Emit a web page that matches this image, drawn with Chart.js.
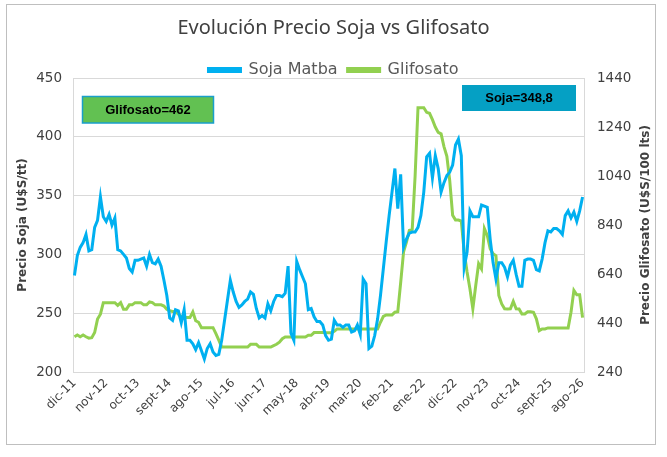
<!DOCTYPE html>
<html>
<head>
<meta charset="utf-8">
<script src="https://cdn.jsdelivr.net/npm/chart.js@4.4.1/dist/chart.umd.min.js"></script>
<style>
  body { margin: 0; background: #fff; }
  #wrap { width: 667px; height: 457px; position: relative; }
</style>
</head>
<body>
<div id="wrap"><canvas id="grafico" width="667" height="457"></canvas></div>
<script>
// Meses (dic-11 a ago-26), un dato por mes
const meses = ['ene', 'feb', 'mar', 'abr', 'may', 'jun', 'jul', 'ago', 'sept', 'oct', 'nov', 'dic'];
const mesInicio = 11;   // índice de 'dic'
const anioInicio = 11;
const totalMeses = 177;

// Soja Matba (U$S/tt) - eje izquierdo
const soja = [
  282, 299, 306, 310, 317, 303, 304, 323, 329, 349, 332, 328, 334, 325, 331, 304, 303, 300, 297, 288,
  285, 295, 295, 296, 297, 290, 300, 293, 292, 296, 290, 278, 265, 246, 244, 253, 252, 242, 253, 227,
  227, 224, 219, 225, 218, 211, 220, 224, 217, 214, 215, 227, 244, 261, 278, 268, 260, 255, 257, 260,
  262, 268, 266, 254, 246, 248, 246, 258, 252, 260, 265, 265, 264, 267, 290, 233, 227, 294, 287, 281,
  275, 253, 254, 247, 243, 243, 240, 231, 227, 228, 244, 240, 240, 238, 240, 240, 234, 235, 240, 232,
  279, 275, 220, 222, 231, 245, 265, 288, 311, 333, 353, 373, 339, 368, 306, 313, 318, 319, 319, 323,
  333, 353, 383, 386, 365, 384, 373, 353, 361, 367, 370, 376, 393, 398, 384, 289, 302, 337, 332, 332,
  332, 342, 341, 340, 313, 293, 279, 293, 293, 289, 281, 291, 295, 283, 273, 273, 295, 296, 296, 295,
  287, 286, 296, 310, 320, 319, 322, 322, 320, 317, 333, 337, 331, 336, 328, 337, 348.8
];

// Glifosato (U$S/100 lts) - eje derecho
const glifosato = [
  384, 391, 384, 391, 384, 378, 380, 401, 456, 476, 523, 523, 523, 523, 523, 512, 523, 496, 496, 514,
  514, 523, 523, 523, 514, 514, 526, 523, 514, 514, 514, 509, 496, 490, 487, 487, 476, 465, 462, 462,
  462, 485, 449, 443, 421, 421, 421, 421, 421, 397, 370, 342, 342, 342, 342, 342, 342, 342, 342, 342,
  342, 353, 353, 353, 342, 342, 342, 342, 342, 348, 353, 362, 376, 383, 383, 383, 383, 383, 383, 383,
  383, 390, 390, 401, 401, 401, 401, 400, 400, 400, 406, 416, 416, 416, 416, 416, 416, 416, 416, 416,
  416, 416, 416, 416, 416, 416, 443, 467, 473, 473, 473, 484, 486, 605, 730, 770, 818, 822, 1040, 1319,
  1319, 1319, 1300, 1296, 1270, 1240, 1218, 1212, 1160, 1120, 1020, 880, 860, 860, 856, 730, 648, 579, 498, 593,
  682, 661, 825, 797, 743, 723, 714, 552, 518, 498, 497, 498, 528, 498, 497, 477, 477, 486, 486, 484,
  457, 409, 416, 416, 420, 420, 420, 420, 420, 420, 420, 420, 484, 573, 555, 555, 462
];

// Ticks de los ejes
const ticksSoja = [200, 250, 300, 350, 400, 450];
const ticksGlifo = [240, 440, 640, 840, 1040, 1240, 1440];
const saltoEtiquetas = 11;

const etiquetas = [];
for (let i = 0; i < totalMeses; i++) {
  const m = (mesInicio + i) % 12;
  const a = anioInicio + Math.floor((mesInicio + i) / 12);
  etiquetas.push(meses[m] + '-' + a);
}

const colores = {
  soja: '#00B0F0',
  glifo: '#92D050',
  texto: '#404040',
  grilla: '#D9D9D9'
};

const fuente = 'DejaVu Sans';

// Achica el alto de la leyenda para acercar el área del gráfico
const leyendaCompacta = {
  id: 'leyendaCompacta',
  beforeInit(chart) {
    const fitOriginal = chart.legend.fit;
    chart.legend.fit = function () {
      fitOriginal.call(this);
      this.height -= 10;
    };
  }
};

// Cuadros de texto, ejes titulados y borde exterior
const decoracion = {
  id: 'decoracion',
  beforeDraw(chart) {
    const ctx = chart.ctx;
    ctx.save();
    ctx.fillStyle = '#fff';
    ctx.fillRect(0, 0, chart.width, chart.height);
    ctx.restore();
  },
  afterDraw(chart) {
    const ctx = chart.ctx;
    const area = chart.chartArea;
    ctx.save();

    // borde del gráfico
    ctx.strokeStyle = '#BFBFBF';
    ctx.lineWidth = 1;
    ctx.strokeRect(6.5, 4.5, 649, 440);

    // títulos de los ejes
    ctx.fillStyle = colores.texto;
    ctx.font = 'bold 12px ' + fuente;
    ctx.textAlign = 'center';
    ctx.textBaseline = 'middle';
    const yMedio = (area.top + area.bottom) / 2;
    ctx.save();
    ctx.translate(23, yMedio);
    ctx.rotate(-Math.PI / 2);
    ctx.fillText('Precio Soja (U$S/tt)', 0, 0);
    ctx.restore();
    ctx.save();
    ctx.translate(646, yMedio);
    ctx.rotate(-Math.PI / 2);
    ctx.fillText('Precio Glifosato (U$S/100 lts)', 0, 0);
    ctx.restore();

    // cuadros con el último valor
    const ultGlifo = glifosato[glifosato.length - 1];
    const ultSoja = soja[soja.length - 1];
    ctx.font = 'bold 13px "Liberation Sans"';

    ctx.fillStyle = '#62C152';
    ctx.fillRect(82.5, 96.5, 131, 26.5);
    ctx.strokeStyle = '#1A9FCB';
    ctx.lineWidth = 1.5;
    ctx.strokeRect(82.5, 96.5, 131, 26.5);
    ctx.fillStyle = '#000';
    ctx.fillText('Glifosato=' + ultGlifo, 148, 110);

    ctx.fillStyle = '#05A0C4';
    ctx.fillRect(462, 85, 114, 26);
    ctx.fillStyle = '#000';
    ctx.fillText('Soja=' + String(ultSoja).replace('.', ','), 519, 98.5);

    ctx.restore();
  }
};

new Chart(document.getElementById('grafico'), {
  type: 'line',
  data: {
    labels: etiquetas,
    datasets: [
      {
        label: 'Soja Matba',
        data: soja,
        yAxisID: 'y',
        borderColor: colores.soja,
        backgroundColor: colores.soja,
        borderWidth: 3,
        pointRadius: 0,
        tension: 0
      },
      {
        label: 'Glifosato',
        data: glifosato,
        yAxisID: 'y1',
        borderColor: colores.glifo,
        backgroundColor: colores.glifo,
        borderWidth: 3,
        pointRadius: 0,
        tension: 0
      }
    ]
  },
  options: {
    responsive: false,
    animation: false,
    devicePixelRatio: 1,
    layout: { padding: { top: 0, left: 0, right: 0, bottom: 0 } },
    plugins: {
      title: {
        display: true,
        text: 'Evolución Precio Soja vs Glifosato',
        color: colores.texto,
        font: { family: 'Noto Sans', size: 20, weight: 'normal' },
        padding: { top: 16, bottom: 12 }
      },
      legend: {
        display: true,
        labels: {
          color: '#595959',
          font: { family: fuente, size: 16 },
          boxWidth: 32,
          boxHeight: 3,
          padding: 10
        }
      },
      tooltip: { enabled: false }
    },
    scales: {
      x: {
        type: 'category',
        offset: true,
        grid: { display: false, drawTicks: false },
        border: { display: true, color: colores.grilla },
        ticks: {
          autoSkip: false,
          minRotation: 45,
          maxRotation: 45,
          padding: 4,
          color: colores.texto,
          font: { family: fuente, size: 12 },
          callback: function (valor, indice) {
            return indice % saltoEtiquetas === 0 ? this.getLabelForValue(valor) : '';
          }
        },
        afterFit(escala) { escala.height = 85; }
      },
      y: {
        position: 'left',
        min: ticksSoja[0],
        max: ticksSoja[ticksSoja.length - 1],
        afterBuildTicks(escala) { escala.ticks = ticksSoja.map(v => ({ value: v })); },
        grid: { color: colores.grilla, drawTicks: false },
        border: { display: true, color: colores.grilla },
        ticks: { padding: 11, color: colores.texto, font: { family: fuente, size: 13.5 } },
        afterFit(escala) { escala.width = 73; }
      },
      y1: {
        position: 'right',
        min: ticksGlifo[0],
        max: ticksGlifo[ticksGlifo.length - 1],
        afterBuildTicks(escala) { escala.ticks = ticksGlifo.map(v => ({ value: v })); },
        grid: { drawOnChartArea: false, drawTicks: false },
        border: { display: true, color: colores.grilla },
        ticks: {
          padding: 13,
          color: colores.texto,
          font: { family: fuente, size: 13.5 },
          callback: v => String(v)
        },
        afterFit(escala) { escala.width = 83; }
      }
    }
  },
  plugins: [leyendaCompacta, decoracion]
});
</script>
</body>
</html>
